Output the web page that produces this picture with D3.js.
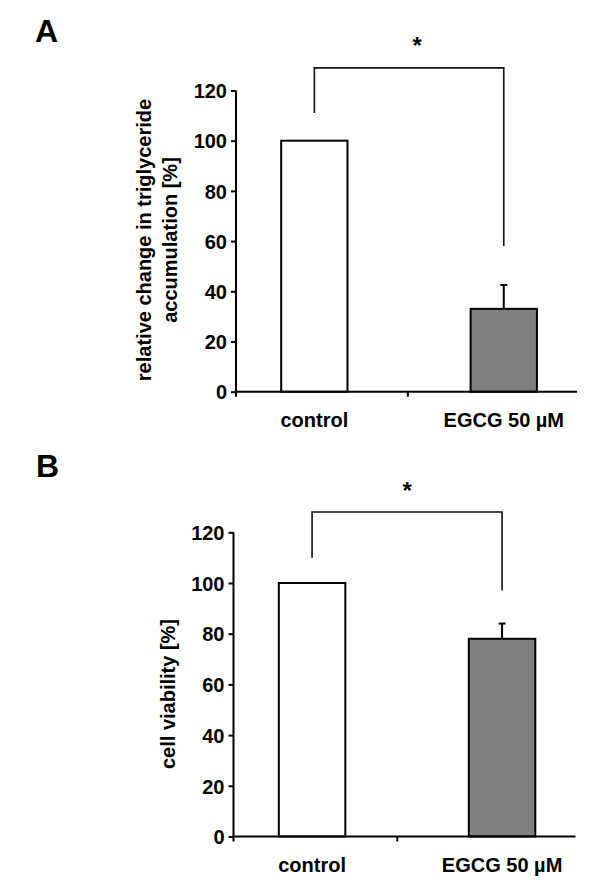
<!DOCTYPE html>
<html>
<head>
<meta charset="utf-8">
<script src="https://cdn.jsdelivr.net/npm/d3@7"></script>
<style>
  html, body { margin: 0; padding: 0; background: #fff; }
  svg { display: block; }
  text { font-family: "Liberation Sans", Arial, Helvetica, sans-serif; font-weight: bold; fill: #000; }
</style>
</head>
<body>
<script>
// ---------------- data ----------------
const categories = ["control", "EGCG 50 µM"];
const barFills = ["#ffffff", "#808080"];
const triglycerideValues = [100, 33];
const triglycerideErrors = [0, 9.5];
const viabilityValues = [100, 78];
const viabilityErrors = [0, 6];
const yTickValues = [0, 20, 40, 60, 80, 100, 120];
const panelLetters = ["A", "B"];
const yLabelLinesA = ["relative change in triglyceride", "accumulation [%]"];
const yLabelLinesB = ["cell viability [%]"];
const significanceMarks = ["*", "*"];
// significance bracket levels (in data units): top, left leg end, right leg end
const bracketTop = [129, 128];
const bracketLeftEnd = [111, 110];
const bracketRightEnd = [58, 97];

// ---------------- layout ----------------
const W = 600, H = 888;
const panels = [
  { values: triglycerideValues, errors: triglycerideErrors, labels: yLabelLinesA,
    left: 236, right: 577, y0: 391.7, yMax: 90.5, midFrac: 0.504,
    letterX: 35, letterY: 42, starDx: 8, labelXs: [144, 170], labelCY: 240 },
  { values: viabilityValues, errors: viabilityErrors, labels: yLabelLinesB,
    left: 233.5, right: 575.5, y0: 836.5, yMax: 532.3, midFrac: 0.479,
    letterX: 36, letterY: 477, starDx: 0, labelXs: [167.6], labelCY: 694 }
];

const svg = d3.select("body").append("svg").attr("width", W).attr("height", H);

panels.forEach((p, pi) => {
  const g = svg.append("g");
  const x = d3.scaleBand().domain(categories).range([p.left, p.right])
    .paddingInner(0.65).paddingOuter(0.225).align(0.53);
  const y = d3.scaleLinear().domain([0, 120]).range([p.y0, p.yMax]);

  // panel letter
  g.append("text").attr("x", p.letterX).attr("y", p.letterY)
    .attr("font-size", 32).text(panelLetters[pi]);

  // bars
  const rows = categories.map((c, i) => ({ c, v: p.values[i], e: p.errors[i], fill: barFills[i] }));
  g.selectAll("rect.bar").data(rows).enter().append("rect")
    .attr("class", "bar")
    .attr("x", d => x(d.c)).attr("width", x.bandwidth())
    .attr("y", d => y(d.v)).attr("height", d => y(0) - y(d.v))
    .attr("fill", d => d.fill).attr("stroke", "#000").attr("stroke-width", 2);

  // error bars (upper only)
  const errRows = rows.filter(d => d.e > 0);
  const cx = d => x(d.c) + x.bandwidth() / 2;
  g.selectAll("line.err").data(errRows).enter().append("line")
    .attr("x1", cx).attr("x2", cx)
    .attr("y1", d => y(d.v)).attr("y2", d => y(d.v + d.e))
    .attr("stroke", "#000").attr("stroke-width", 2);
  g.selectAll("line.cap").data(errRows).enter().append("line")
    .attr("x1", d => cx(d) - 3.5).attr("x2", d => cx(d) + 3.5)
    .attr("y1", d => y(d.v + d.e)).attr("y2", d => y(d.v + d.e))
    .attr("stroke", "#000").attr("stroke-width", 2);

  // y axis
  const yAxis = d3.axisLeft(y).tickValues(yTickValues).tickSize(5).tickPadding(4).tickSizeOuter(0);
  const ya = g.append("g").attr("transform", `translate(${p.left},0)`).call(yAxis);
  ya.select(".domain").remove();
  ya.selectAll(".tick line").attr("stroke", "#000").attr("stroke-width", 2);
  ya.selectAll(".tick text").attr("font-size", 20).attr("font-family", null).attr("dy", "0.36em");
  g.append("line").attr("x1", p.left).attr("x2", p.left)
    .attr("y1", y(120)).attr("y2", y(0) + 5)
    .attr("stroke", "#000").attr("stroke-width", 2);

  // x axis
  const xAxis = d3.axisBottom(x).tickSize(0).tickPadding(21);
  const xa = g.append("g").attr("transform", `translate(0,${y(0)})`).call(xAxis);
  xa.select(".domain").remove();
  xa.selectAll(".tick text").attr("font-size", 20).attr("font-family", null);
  g.append("line").attr("x1", p.left - 1).attr("x2", p.right)
    .attr("y1", y(0)).attr("y2", y(0)).attr("stroke", "#000").attr("stroke-width", 2);
  const midX = p.left + p.midFrac * (p.right - p.left);
  g.append("line").attr("x1", midX).attr("x2", midX)
    .attr("y1", y(0)).attr("y2", y(0) + 5).attr("stroke", "#000").attr("stroke-width", 2);

  // y label
  p.labels.forEach((t, li) => {
    g.append("text")
      .attr("transform", `translate(${p.labelXs[li]},${p.labelCY}) rotate(-90)`)
      .attr("text-anchor", "middle").attr("dy", "0.36em")
      .attr("font-size", 20).text(t);
  });

  // significance bracket
  const xl = cx(rows[0]), xr = cx(rows[1]);
  const path = d3.path();
  path.moveTo(xl, y(bracketLeftEnd[pi]));
  path.lineTo(xl, y(bracketTop[pi]));
  path.lineTo(xr, y(bracketTop[pi]));
  path.lineTo(xr, y(bracketRightEnd[pi]));
  g.append("path").attr("d", path.toString()).attr("fill", "none")
    .attr("stroke", "#111").attr("stroke-width", 1.6);
  g.append("text").attr("x", (xl + xr) / 2 + p.starDx).attr("y", y(bracketTop[pi]) - 27 + 13.5)
    .attr("text-anchor", "middle").attr("font-size", 24).text(significanceMarks[pi]);
});
</script>
</body>
</html>
